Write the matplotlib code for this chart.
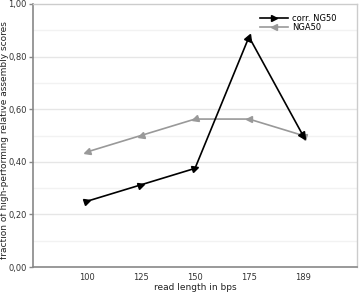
import matplotlib
matplotlib.use("Agg")
import matplotlib.pyplot as plt
from matplotlib.markers import MarkerStyle
from matplotlib.transforms import Affine2D
import numpy as np

categories = ["100", "125", "150", "175", "189"]
corr_ng50 = [0.25, 0.3125, 0.375, 0.875, 0.5]
nga50 = [0.4375, 0.5, 0.5625, 0.5625, 0.5]

fig = plt.figure(figsize=(3.59, 2.93), dpi=100)
ax = fig.add_axes([33/359, 1-267/293, (357-33)/359, (267-4)/293])
x = np.arange(1, len(categories)+1)
ax.set_xlim(0, 6)
ax.set_ylim(0, 1)

for yv in np.arange(0.1, 1.0, 0.1):
    major = abs(round(yv*10) % 2) == 0
    ax.axhline(yv, color="#e6e6e6" if major else "#f2f2f2", lw=1.0, zorder=0)

fig.canvas.draw()

def oriented(ax, xs, ys, reverse):
    pts = ax.transData.transform(np.column_stack([xs, ys]))
    angles = []
    n = len(xs)
    for i in range(n):
        if not reverse:
            a, b = (pts[0], pts[1]) if i == 0 else (pts[i-1], pts[i])
        else:
            a, b = (pts[1], pts[0]) if i == 0 else (pts[i], pts[i-1])
        angles.append(np.degrees(np.arctan2(b[1]-a[1], b[0]-a[0])))
    return angles

MS = 5
ax.plot(x, corr_ng50, color="black", lw=1.2, zorder=3)
for xi, yi, ang in zip(x, corr_ng50, oriented(ax, x, corr_ng50, False)):
    ax.plot([xi], [yi], marker=MarkerStyle(">", transform=Affine2D().rotate_deg(ang)),
            color="black", ms=MS, zorder=4)
ax.plot(x, nga50, color="#999999", lw=1.2, zorder=2)
for xi, yi, ang in zip(x, nga50, oriented(ax, x, nga50, True)):
    ax.plot([xi], [yi], marker=MarkerStyle(">", transform=Affine2D().rotate_deg(ang)),
            color="#999999", ms=MS, zorder=3)

h1, = ax.plot([], [], color="black", lw=1.2, marker=">", ms=MS)
h2, = ax.plot([], [], color="#999999", lw=1.2, marker="<", ms=MS)
ax.legend([h1, h2], ["corr. NG50", "NGA50"], loc="upper right", frameon=False,
          fontsize=6, bbox_to_anchor=(0.955, 0.985), handlelength=3.4,
          labelspacing=0.05, borderpad=0.2, handletextpad=0.5)

ax.set_xticks(x)
ax.set_xticklabels(categories)
ax.set_yticks([0, 0.2, 0.4, 0.6, 0.8, 1.0])
ax.set_yticklabels(["0,00", "0,20", "0,40", "0,60", "0,80", "1,00"])
ax.tick_params(axis="both", labelsize=6, color="#888888", length=3, width=1, labelcolor="#333333")
ax.tick_params(axis="x", length=0, pad=4)
ax.tick_params(axis="y", pad=1.5)
for s in ["left", "bottom"]:
    ax.spines[s].set_color("#888888")
    ax.spines[s].set_linewidth(1.2)
for s in ["top", "right"]:
    ax.spines[s].set_color("#cccccc")
    ax.spines[s].set_linewidth(1.0)

fig.text(195/359, 1-287/293, "read length in bps", fontsize=6.5, color="#222222",
         ha="center", va="center")
fig.text(5/359, 1-140/293, "fraction of high-performing relative assembly scores",
         fontsize=6.5, color="#222222", ha="center", va="center", rotation=90)

fig.savefig("out.png", dpi=100)
